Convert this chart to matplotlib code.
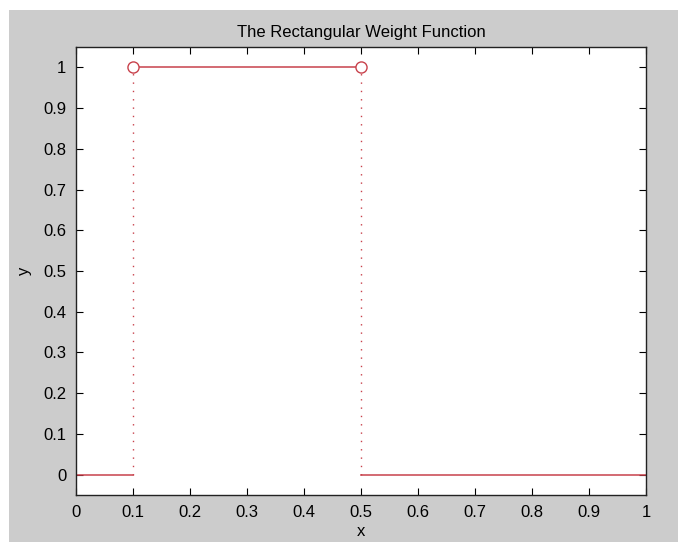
import numpy as np
import matplotlib.pyplot as plt
from matplotlib.patches import Rectangle

# weight function pieces
left_x = [0.0, 0.1]
left_y = [0.0, 0.0]
mid_x = [0.1, 0.5]
mid_y = [1.0, 1.0]
right_x = [0.5, 1.0]
right_y = [0.0, 0.0]
jump_x = [0.1, 0.5]
open_y = [1.0, 1.0]
tick_lab = ['0', '0.1', '0.2', '0.3', '0.4', '0.5', '0.6', '0.7', '0.8', '0.9', '1']

col = '#c8414b'
plt.rcParams['font.family'] = ['Liberation Sans', 'DejaVu Sans']

fig = plt.figure(figsize=(6.78, 5.42), dpi=100, facecolor='#cccccc')
# white strips at top and left edge of the screenshot
fig.patches.append(Rectangle((0, 1 - 10/542), 1, 10/542, transform=fig.transFigure,
                             facecolor='white', edgecolor='none', zorder=-5))
fig.patches.append(Rectangle((0, 0), 9/678, 1, transform=fig.transFigure,
                             facecolor='white', edgecolor='none', zorder=-5))
ax = fig.add_axes([76/678, 1 - 495/542, 570/678, 448/542])

ax.plot(left_x, left_y, '-', color=col, lw=1.1)
ax.plot(mid_x, mid_y, '-', color=col, lw=1.1)
ax.plot(right_x, right_y, '-', color=col, lw=1.1)
for xj in jump_x:
    ax.plot([xj, xj], [0, 1], linestyle=(0, (1, 5)), color=col, lw=1.0)
ax.plot(jump_x, open_y, 'o', ms=8, markerfacecolor='white', markeredgecolor=col, mew=1.0)

ax.set_xlim(0, 1)
ax.set_ylim(-0.05, 1.05)
ax.set_xticks(np.arange(0, 1.01, 0.1))
ax.set_xticklabels(tick_lab)
ax.set_yticks(np.arange(0, 1.01, 0.1))
ax.set_yticklabels(tick_lab)
ax.tick_params(direction='in', top=True, right=True, length=5, labelsize=12, pad=7)
for s in ax.spines.values():
    s.set_linewidth(1.0)
    s.set_color('#222222')

ax.set_title('The Rectangular Weight Function', fontsize=12, pad=7)
ax.set_xlabel('x', fontsize=12, labelpad=3)
ax.set_ylabel('y', fontsize=12, labelpad=8)

plt.savefig('out.png', dpi=100, facecolor=fig.get_facecolor())
